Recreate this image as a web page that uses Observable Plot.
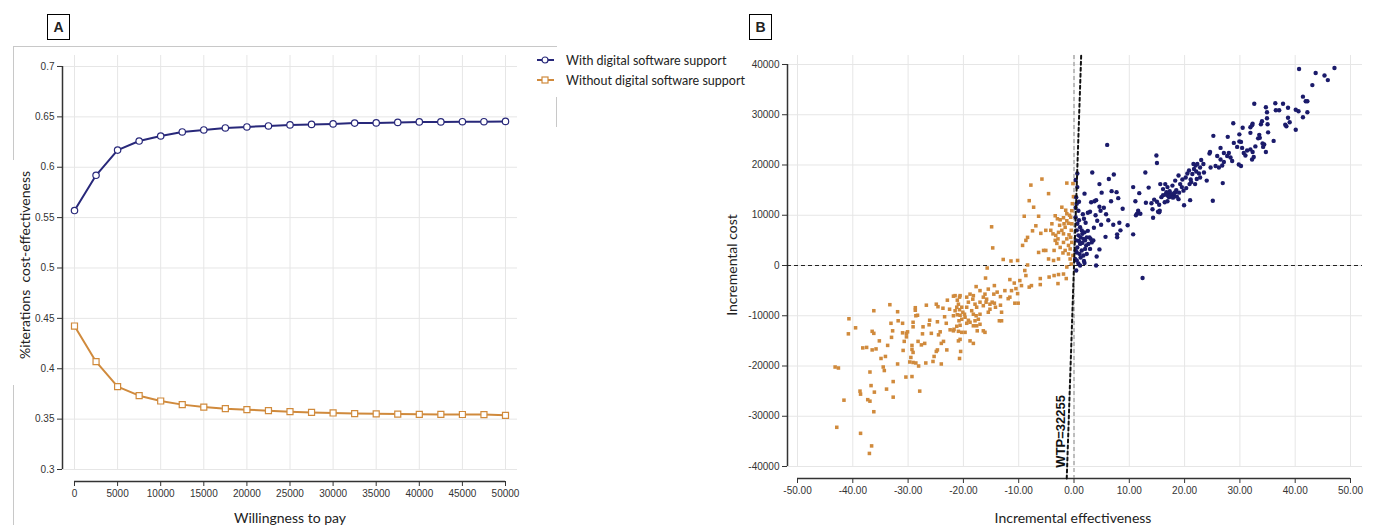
<!DOCTYPE html>
<html><head><meta charset="utf-8">
<script src="https://cdn.jsdelivr.net/npm/d3@7"></script>
<script src="https://cdn.jsdelivr.net/npm/@observablehq/plot@0.6"></script>
<style>
body{margin:0;background:#fff;}
#root{position:relative;width:1373px;height:525px;overflow:hidden;font-family:Lato,"Liberation Sans",sans-serif;color:#222;}
.abs{position:absolute;white-space:nowrap;}
.box{position:absolute;border:1.5px solid #000;width:23px;height:26px;font:bold 14px "Liberation Sans",sans-serif;display:flex;align-items:center;justify-content:center;box-sizing:border-box;}
.line{position:absolute;background:#c8c8c8;}
.rot{transform:translate(-50%,-50%) rotate(-90deg);}
.ctr{transform:translate(-50%,-50%);}
</style></head><body><div id="root"></div>
<script>
// ---------- Panel A data (CEAC) ----------
const wtpValues = [0,2500,5000,7500,10000,12500,15000,17500,20000,22500,25000,27500,30000,32500,35000,37500,40000,42500,45000,47500,50000];
const withSupport = [0.557,0.592,0.617,0.626,0.631,0.635,0.637,0.639,0.640,0.641,0.642,0.6425,0.643,0.6438,0.644,0.6445,0.645,0.645,0.6452,0.6452,0.6455];
const withoutSupport = [0.4424,0.407,0.3822,0.3733,0.368,0.3644,0.362,0.3604,0.3594,0.3584,0.3574,0.3567,0.3561,0.3555,0.3553,0.355,0.3548,0.3547,0.3546,0.3545,0.3538];
const xTicksA = [0,5000,10000,15000,20000,25000,30000,35000,40000,45000,50000];
const yTicksA = [0.3,0.35,0.4,0.45,0.5,0.55,0.6,0.65,0.7];
const seriesNames = ["With digital software support","Without digital software support"];

// ---------- Panel B data (cost-effectiveness plane) ----------
const wtpThreshold = 32255;
const xTicksB = [-50,-40,-30,-20,-10,0,10,20,30,40,50];
const yTicksB = [-40000,-30000,-20000,-10000,0,10000,20000,30000,40000];
const bluePoints = [
[40.7,39100],[43.7,38300],[45.3,37800],[45.9,36900],[47.1,39300],[43.1,35900],[41.4,33600],[41.9,32700],[42.2,32700],[42.2,30500],[41.4,29500],[40.6,30700],[40.1,31000],[40.1,27000],[38.7,29400],[39.0,28500],[38.2,28000],[38.4,27700],[38.7,31400],[37.8,32200],[36.4,32300],[37.1,30900],[36.5,30900],[34.7,31500],[34.9,30500],[34.9,29300],[35.0,28100],[35.1,26500],[36.1,24800],[32.6,32200],[34.0,28700],[33.8,28100],[32.3,28200],[31.9,27500],[32.2,27900],[31.9,26400],[33.5,26000],[33.6,25400],[33.3,25300],[30.5,27400],[29.9,26100],[28.8,28300],[27.8,25600],[28.9,24400],[29.9,24700],[30.2,24600],[29.5,23600],[30.4,23400],[30.7,22400],[31.0,21900],[31.3,22900],[31.9,23100],[32.3,22600],[32.8,23700],[34.1,24300],[34.2,23600],[34.7,22600],[34.4,24100],[32.5,21600],[32.2,21100],[30.2,19800],[29.8,20100],[26.5,23400],[25.2,25800],[24.6,22600],[24.5,22300],[27.1,22400],[28.0,22400],[28.3,21500],[28.6,20800],[27.7,21800],[25.9,21800],[26.5,21100],[27.1,20600],[26.8,19900],[26.2,19500],[25.6,19800],[24.7,19500],[26.9,16400],
[6.0,24000],[14.9,21900],[15.0,20400],[3.3,18500],[7.2,18100],[6.3,17200],[4.6,16200],[1.9,14300],[5.0,14500],[3.7,12800],[3.1,12600],[4.0,13000],[4.6,11700],[4.8,10900],[6.7,12800],[7.7,14600],[8.0,13400],[5.4,11500],[2.9,10700],[2.5,10500],[1.8,9300],[2.1,8500],[6.2,9000],[4.2,8900],[4.9,8100],[7.1,8100],[8.2,8500],[8.4,7000],[9.7,8000],[7.8,6200],[7.8,5600],[5.7,5700],[10.7,6200],[8.8,11300],[11.1,12800],[10.7,15600],[11.8,14400],[12.9,18500],[13.5,15500],[11.6,10900],[11.4,10300],[12.0,10300],[11.2,10000],[13.0,12500],[14.0,12400],[14.2,11200],[14.3,9500],[15.2,10700],[14.5,13100],[15.0,12700],[15.4,12100],[15.4,10600],[15.5,10900],[15.6,16200],[16.5,16200],
[15.8,13600],[16.1,14000],[16.7,14600],[17.1,14300],[17.3,14800],[17.7,14200],[18.0,13900],[18.3,14600],[18.6,13700],[18.9,13200],[17.2,13600],[16.9,12800],[16.4,12600],[16.1,15200],[16.9,15600],[17.8,15900],[18.3,16900],[18.9,17900],[19.2,16200],[19.5,15600],[19.8,14900],[19.9,12000],[21.0,13000],[20.9,16200],[20.2,17500],[20.5,18300],[21.1,17100],[21.4,18200],[21.7,19200],[22.0,19900],[22.3,20200],[21.6,20200],[22.8,19500],[23.4,20200],[23.5,18500],[22.8,17500],[22.2,17200],[21.9,16200],[24.0,16900],[25.1,12900],
[17.5,14000],[18.1,14400],[17.0,13900],[17.9,13500],[18.5,15000],[19.0,14500],[16.6,14100],[20.3,15400],[21.2,16600],[22.6,18300],[19.6,17100],[20.8,18900],[23.0,21000],[22.1,18700],
[0.6,18300],[0.6,15600],[0.4,13600],[0.5,12300],[0.8,10900],[0.3,9600],[0.6,8300],[1.1,7600],[1.4,7000],[0.5,7000],[0.8,6000],[1.2,5600],[1.7,5300],[2.0,5000],[2.3,5600],[2.6,4300],[2.2,4000],[1.1,4300],[0.6,3600],[0.5,2600],[1.0,2300],[1.4,3000],[1.7,2000],[2.9,3300],[3.2,4600],[4.1,1800],[4.0,0],[4.6,3200],[0.5,1000],[0.8,400],[0.2,1300],[1.1,0],[1.8,900],[2.3,2300],[2.8,5600],[3.0,5300],[3.5,5000],[12.4,-2500],[0.4,-1000],[1.9,500],
[0.3,11500],[0.9,9000],[1.5,6300],[0.4,5000],[1.9,6600],[2.5,6900],[0.9,4900],[1.5,4500],[2.0,3300],[0.3,3000],[1.2,1600],[0.9,12700],[1.6,10200],[0.3,17000],[3.6,7500],[3.9,10000],[5.8,10200],[6.8,14800]
];
const orangePoints = [
[-5.8,17200],[-7.8,16000],[-1.3,16400],[-4.6,14300],[-8.1,12900],[-7.3,11600],[-6.4,9800],[-9.0,9800],[-14.9,7700],[-6.9,7900],[-7.5,6900],[-6.0,6400],[-5.1,7000],[-4.2,7000],[-3.8,6300],[-3.3,6000],[-2.8,6600],[-2.2,7000],[-1.9,6300],[-3.4,5000],[-3.1,4400],[-2.5,3600],[-1.9,4600],[-1.3,5300],[-1.0,4000],[-1.6,3000],[-1.0,2300],[-0.7,1300],[-0.5,300],[-1.3,-300],[-3.4,9900],[-3.0,9300],[-2.5,9100],[-1.9,9500],[-1.3,8900],[-1.0,8400],[-1.8,8300],[-2.2,11600],[-1.3,10300],[-0.4,10900],[-0.6,9600],[-0.4,8300],[-0.5,7000],[-0.6,5600],[-0.4,4600],[-0.7,3300],[-0.2,2000],[-8.4,5600],[-8.7,5000],[-9.3,4000],[-14.7,3500],[-6.4,2600],[-5.5,3000],[-5.1,3000],[-4.6,1300],[-3.7,1000],[-2.8,1300],[-12.8,1200],[-11.4,900],[-10.2,1000],[-8.4,100],[-15.7,-500],[-8.9,-1000],[-8.7,-2000],[-9.8,-3000],[-11.6,-2800],[-16.0,-2500],[-10.8,-3500],[-9.5,-4000],[-8.1,-4300],[-7.7,-4000],[-6.1,-3800],[-4.5,-2300],[-3.6,-2000],[-2.8,-1800],[-1.9,-1700],[-1.4,-2600],[-2.9,-3600],[-6.1,-2600],[-10.5,-4600],[-11.3,-5000],[-12.5,-5000],[-10.2,-5600],[-11.6,-6300],[-11.9,-6600],[-10.7,-7500],[-10.1,-7500],[-13.1,-9300],[-0.2,16300],[-0.1,13700],
[-0.9,6100],[-1.6,7600],[-2.6,8000],[-0.8,10000],[-1.5,11000],[-2.9,5300],[-2.0,2500],[-0.3,12300],[-4.0,8300],[-3.6,3000],
[-21.8,-6100],[-21.5,-6000],[-21.1,-6900],[-20.7,-6300],[-20.6,-6000],[-20.9,-7700],[-21.2,-8300],[-20.7,-8800],[-21.5,-9000],[-21.8,-10000],[-21.1,-9800],[-20.6,-9900],[-20.1,-9300],[-19.8,-9700],[-19.7,-10300],[-20.3,-10700],[-20.8,-11000],[-20.6,-11900],[-21.2,-12100],[-21.7,-12700],[-21.8,-13000],[-20.9,-13100],[-20.3,-13300],[-19.7,-13300],[-20.6,-14700],[-20.9,-15000],[-20.5,-17100],[-20.7,-18500],[-19.1,-10900],[-18.8,-11300],[-19.4,-8300],[-19.1,-7300],[-19.4,-6300],[-18.8,-5700],[-18.2,-6000],[-18.3,-6700],[-17.9,-7700],[-17.6,-8300],[-18.5,-9000],[-18.2,-9700],[-17.7,-10000],[-17.0,-9700],[-17.3,-10700],[-17.9,-11000],[-18.2,-12000],[-17.6,-12000],[-17.0,-11700],[-17.5,-13000],[-16.4,-13000],[-16.1,-13300],[-18.8,-15000],[-18.2,-15500],[-17.0,-7300],[-16.4,-8000],[-16.1,-5700],[-16.4,-6300],[-15.8,-6700],[-15.9,-7300],[-15.2,-7700],[-14.8,-7300],[-15.2,-8700],[-15.5,-9300],[-14.2,-8300],[-14.4,-7500],[-14.5,-5700],[-13.9,-5300],[-13.3,-6200],[-13.3,-7900],[-13.5,-11000],[-13.1,-11000],[-15.5,-4700],[-14.4,-4000],[-17.0,-5000],[-17.7,-4200],[-20.3,-8300],[-19.4,-11500],
[-33.3,-7800],[-36.2,-9000],[-40.7,-10600],[-40.8,-13600],[-39.5,-12400],[-36.5,-13100],[-36.2,-13500],[-38.2,-16400],[-37.5,-16300],[-36.5,-16800],[-35.8,-16600],[-35.2,-15000],[-33.1,-11500],[-32.8,-13000],[-33.0,-14300],[-33.7,-15900],[-34.9,-18500],[-34.1,-18100],[-34.5,-20200],[-34.3,-20900],[-36.9,-21200],[-31.9,-9200],[-31.8,-11000],[-31.9,-19600],[-31.0,-11500],[-31.0,-13400],[-30.3,-13500],[-30.1,-13200],[-30.3,-14200],[-30.7,-15100],[-30.9,-16900],[-29.3,-15900],[-29.3,-16700],[-29.1,-17300],[-29.5,-18300],[-29.7,-19200],[-29.1,-19300],[-28.6,-19400],[-28.1,-20000],[-29.3,-22100],[-30.4,-22200],[-32.7,-23100],[-27.9,-25000],[-32.7,-26200],[-33.9,-24600],[-36.1,-25200],[-36.7,-23900],[-38.7,-25000],[-38.6,-25600],[-37.3,-26700],[-36.9,-27000],[-36.2,-29100],[-41.6,-26800],[-43.2,-20200],[-42.6,-20400],[-42.9,-32200],[-38.6,-33400],[-36.6,-35900],[-37.0,-37400],[-28.2,-15100],[-28.6,-10000],[-29.1,-11300],[-28.7,-8900],[-28.7,-8400],[-28.3,-9900],[-29.1,-12200],[-27.3,-12200],[-27.4,-13600],[-27.0,-15500],[-26.7,-7900],[-24.9,-7700],[-24.6,-8200],[-26.1,-10900],[-26.2,-11800],[-25.8,-13500],[-25.3,-18100],[-25.5,-19100],[-24.0,-19600],[-24.7,-16800],[-24.9,-17100],[-24.5,-13800],[-24.7,-11200],[-24.2,-13200],[-23.7,-8500],[-23.4,-10200],[-23.1,-11500],[-22.9,-6900],[-24.0,-15500],[-23.6,-15100],[-23.0,-16800],[-22.5,-8700],[-22.4,-12800],[-27.6,-15800],[-26.8,-19400]
];

// ---------- styles ----------
const BLUE = "#28287a", BLUE_DOT = "#1b1b6b", ORANGE = "#d08a3c", GRID = "#e6e6e6", AXIS = "#333";
const root = document.getElementById("root");

// ---------- Panel A ----------
const xDomA = [-1392, 51392], yDomA = [0.2881, 0.7109];
const ceac = wtpValues.flatMap((w, i) => [
  {wtp: w, p: withSupport[i], s: seriesNames[0]},
  {wtp: w, p: withoutSupport[i], s: seriesNames[1]}
]);
const plotA = Plot.plot({
  width: 530, height: 525,
  marginLeft: 62, marginRight: 13, marginTop: 55, marginBottom: 44,
  style: {fontFamily: "'Liberation Sans', Arial, sans-serif", fontSize: "10px", color: AXIS, background: "transparent"},
  x: {domain: xDomA},
  y: {domain: yDomA},
  marks: [
    Plot.gridY(yTicksA, {stroke: GRID, strokeOpacity: 1}),
    Plot.ruleX(xTicksA, {y1: yTicksA[0], y2: yDomA[1], stroke: GRID}),
    Plot.ruleX([xDomA[0]], {y1: yTicksA[0], y2: yTicksA[yTicksA.length-1], stroke: AXIS, strokeWidth: 1.5}),
    Plot.ruleY([yDomA[0]], {x1: xTicksA[0], x2: xTicksA[xTicksA.length-1], stroke: AXIS, strokeWidth: 1.5}),
    Plot.axisY(yTicksA, {anchor: "left", tickSize: 5, tickPadding: 3, label: null, tickFormat: d => String(+d.toFixed(2))}),
    Plot.axisX(xTicksA, {anchor: "bottom", tickSize: 5, tickPadding: 3, label: null, tickFormat: d => String(d)}),
    Plot.line(ceac.filter(d => d.s === seriesNames[0]), {x: "wtp", y: "p", stroke: BLUE, strokeWidth: 2}),
    Plot.line(ceac.filter(d => d.s === seriesNames[1]), {x: "wtp", y: "p", stroke: ORANGE, strokeWidth: 2}),
    Plot.dot(ceac.filter(d => d.s === seriesNames[0]), {x: "wtp", y: "p", r: 3.2, fill: "white", stroke: BLUE, strokeWidth: 1.2}),
    Plot.dot(ceac.filter(d => d.s === seriesNames[1]), {x: "wtp", y: "p", r: 3.4, symbol: "square", fill: "white", stroke: ORANGE, strokeWidth: 1.2})
  ]
});
plotA.style.position = "absolute"; plotA.style.left = "0px"; plotA.style.top = "0px";
root.appendChild(plotA);

// ---------- Panel B ----------
const xDomB = [-51.81, 52.17], yDomB = [-42388, 41791];
const wtpLine = [yDomB[0], yDomB[1]].map(c => ({e: c / wtpThreshold, c}));
const wtpLabelCost = -33000;
const plotB = Plot.plot({
  width: 673, height: 525,
  marginLeft: 87, marginRight: 11, marginTop: 55, marginBottom: 47,
  style: {fontFamily: "'Liberation Sans', Arial, sans-serif", fontSize: "10px", color: AXIS, background: "transparent"},
  x: {domain: xDomB},
  y: {domain: yDomB},
  marks: [
    Plot.gridY(yTicksB, {stroke: GRID, strokeOpacity: 1}),
    Plot.ruleX(xTicksB, {y1: yTicksB[0], y2: yDomB[1], stroke: GRID}),
    Plot.ruleX([xDomB[0]], {y1: yTicksB[0], y2: yTicksB[yTicksB.length-1], stroke: AXIS, strokeWidth: 1.5}),
    Plot.ruleY([yDomB[0]], {x1: xTicksB[0], x2: xTicksB[xTicksB.length-1], stroke: AXIS, strokeWidth: 1.5}),
    Plot.axisY(yTicksB, {anchor: "left", tickSize: 5, tickPadding: 3, label: null, tickFormat: d => String(d)}),
    Plot.axisX(xTicksB, {anchor: "bottom", tickSize: 5, tickPadding: 3, label: null, tickFormat: d => d.toFixed(2)}),
    Plot.ruleY([0], {stroke: "#222", strokeDasharray: "4,3", strokeWidth: 1}),
    Plot.ruleX([0], {stroke: "#999", strokeDasharray: "4,3", strokeWidth: 1.2}),
    Plot.dot(orangePoints, {x: d => d[0], y: d => d[1], symbol: "square", r: 2, fill: ORANGE}),
    Plot.dot(bluePoints, {x: d => d[0], y: d => d[1], r: 2.2, fill: BLUE_DOT}),
    Plot.line(wtpLine, {x: "e", y: "c", stroke: "#111", strokeWidth: 2, strokeDasharray: "3,3"}),
    Plot.text([{c: wtpLabelCost}], {x: d => d.c / wtpThreshold, y: "c", text: () => "WTP=" + wtpThreshold, rotate: -90, dx: -8, fontWeight: "bold", fontSize: 13, fill: "#111"})
  ]
});
plotB.style.position = "absolute"; plotB.style.left = "700px"; plotB.style.top = "0px";
root.appendChild(plotB);

// ---------- HTML decorations: panel boxes, frame, legend, axis titles ----------
function add(html) { root.insertAdjacentHTML("beforeend", html); }
add(`<div class="box" style="left:47px;top:14px;">A</div>`);
add(`<div class="box" style="left:749px;top:14px;">B</div>`);
add(`<div class="line" style="left:13px;top:46px;width:544px;height:1px;"></div>`);
add(`<div class="line" style="left:13px;top:46px;width:1px;height:114px;"></div>`);
add(`<div class="line" style="left:13px;top:385px;width:1px;height:140px;"></div>`);
add(`<div class="line" style="left:556px;top:97px;width:1px;height:30px;"></div>`);
const legendColors = [BLUE, ORANGE];
seriesNames.forEach((name, i) => {
  const y = 60 + i * 20;
  const sym = i === 0
    ? `<circle cx="8" cy="6" r="3" fill="white" stroke="${legendColors[i]}" stroke-width="1.2"/>`
    : `<rect x="5" y="3" width="6" height="6" fill="white" stroke="${legendColors[i]}" stroke-width="1.2"/>`;
  add(`<svg class="abs" style="left:537px;top:${y-6}px" width="17" height="12"><line x1="0" x2="17" y1="6" y2="6" stroke="${legendColors[i]}" stroke-width="2"/>${sym}</svg>`);
  add(`<div class="abs" style="left:566px;top:${y}px;transform:translateY(-50%);font-size:12.5px;">${name}</div>`);
});
add(`<div class="abs rot" style="left:24px;top:265px;font-size:14px;">%iterations&nbsp; cost-effectiveness</div>`);
add(`<div class="abs ctr" style="left:290px;top:517px;font-size:14px;">Willingness to pay</div>`);
add(`<div class="abs rot" style="left:731px;top:265px;font-size:14px;">Incremental cost</div>`);
add(`<div class="abs ctr" style="left:1073px;top:517px;font-size:14px;">Incremental effectiveness</div>`);
</script></body></html>
